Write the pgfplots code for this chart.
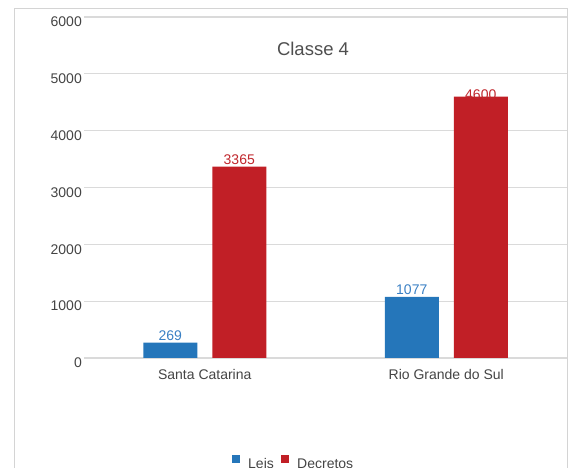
\documentclass[border=0pt]{standalone}
\usepackage{fontspec}
\setmainfont{Liberation Sans}
\usepackage{pgfplots}
\pgfplotsset{compat=1.18}

\definecolor{leis}{HTML}{2576BA}
\definecolor{leislab}{HTML}{3A80C4}
\definecolor{decretos}{HTML}{C11F26}
\definecolor{decretoslab}{HTML}{C0262C}
\definecolor{gridc}{HTML}{DADADA}
\definecolor{framec}{HTML}{D4D4D4}
\definecolor{textc}{HTML}{444444}
\definecolor{titlec}{HTML}{4F4F4F}

\newcommand{\lbl}{\fontsize{14bp}{16bp}\selectfont}

\begin{document}
\begin{tikzpicture}[x=1bp,y=1bp]
\useasboundingbox (0,0) rectangle (569,468);
\clip (0,0) rectangle (569,468);

% outer frame of the chart area
\draw[framec, line width=1bp] (14,-5) -- (14,459) -- (567,459) -- (567,-5);

\begin{axis}[
  at={(84bp,110bp)}, anchor=south west,
  scale only axis, width=483bp, height=341bp,
  ymin=0, ymax=6000, xmin=-0.5, xmax=1.5,
  ytick={0,1000,...,6000},
  xtick={0,1},
  xticklabels={Santa Catarina, Rio Grande do Sul},
  axis line style={draw=none},
  tick style={draw=none},
  major tick length=0pt,
  ymajorgrids,
  grid style={gridc, line width=1.3bp},
  /pgf/number format/1000 sep={},
  /pgf/number format/assume math mode=true,
  yticklabel style={font=\lbl, text=textc, anchor=east, inner sep=0pt, xshift=-2bp, yshift=-5bp},
  xticklabel style={font=\lbl, text=textc, anchor=north, inner sep=0pt, yshift=-11bp},
  ybar=15bp, bar width=54bp,
  clip=false,
]
\addplot[fill=leis, draw=none,
  nodes near coords,
  every node near coord/.append style={font=\lbl, text=leislab, anchor=south, inner sep=0pt, yshift=1.5bp}]
  coordinates {(0,269) (1,1077)};
\addplot[fill=decretos, draw=none,
  nodes near coords,
  visualization depends on={rawy \as \ry},
  every node near coord/.append style={font=\lbl, text=decretoslab, anchor=south, inner sep=0pt,
    yshift={\ry>4000 ? -3.5 : 1.5}}]
  coordinates {(0,3365) (1,4600)};
\end{axis}

% title
\node[font=\fontsize{18.5bp}{21bp}\selectfont, text=titlec, anchor=base, inner sep=0pt] at (313,412) {Classe 4};

% legend
\fill[leis] (232,5) rectangle (240,13);
\node[font=\lbl, text=textc, anchor=base west, inner sep=0pt] at (248,-1) {Leis};
\fill[decretos] (281,5) rectangle (289,13);
\node[font=\lbl, text=textc, anchor=base west, inner sep=0pt] at (297,-1) {Decretos};
\end{tikzpicture}
\end{document}
